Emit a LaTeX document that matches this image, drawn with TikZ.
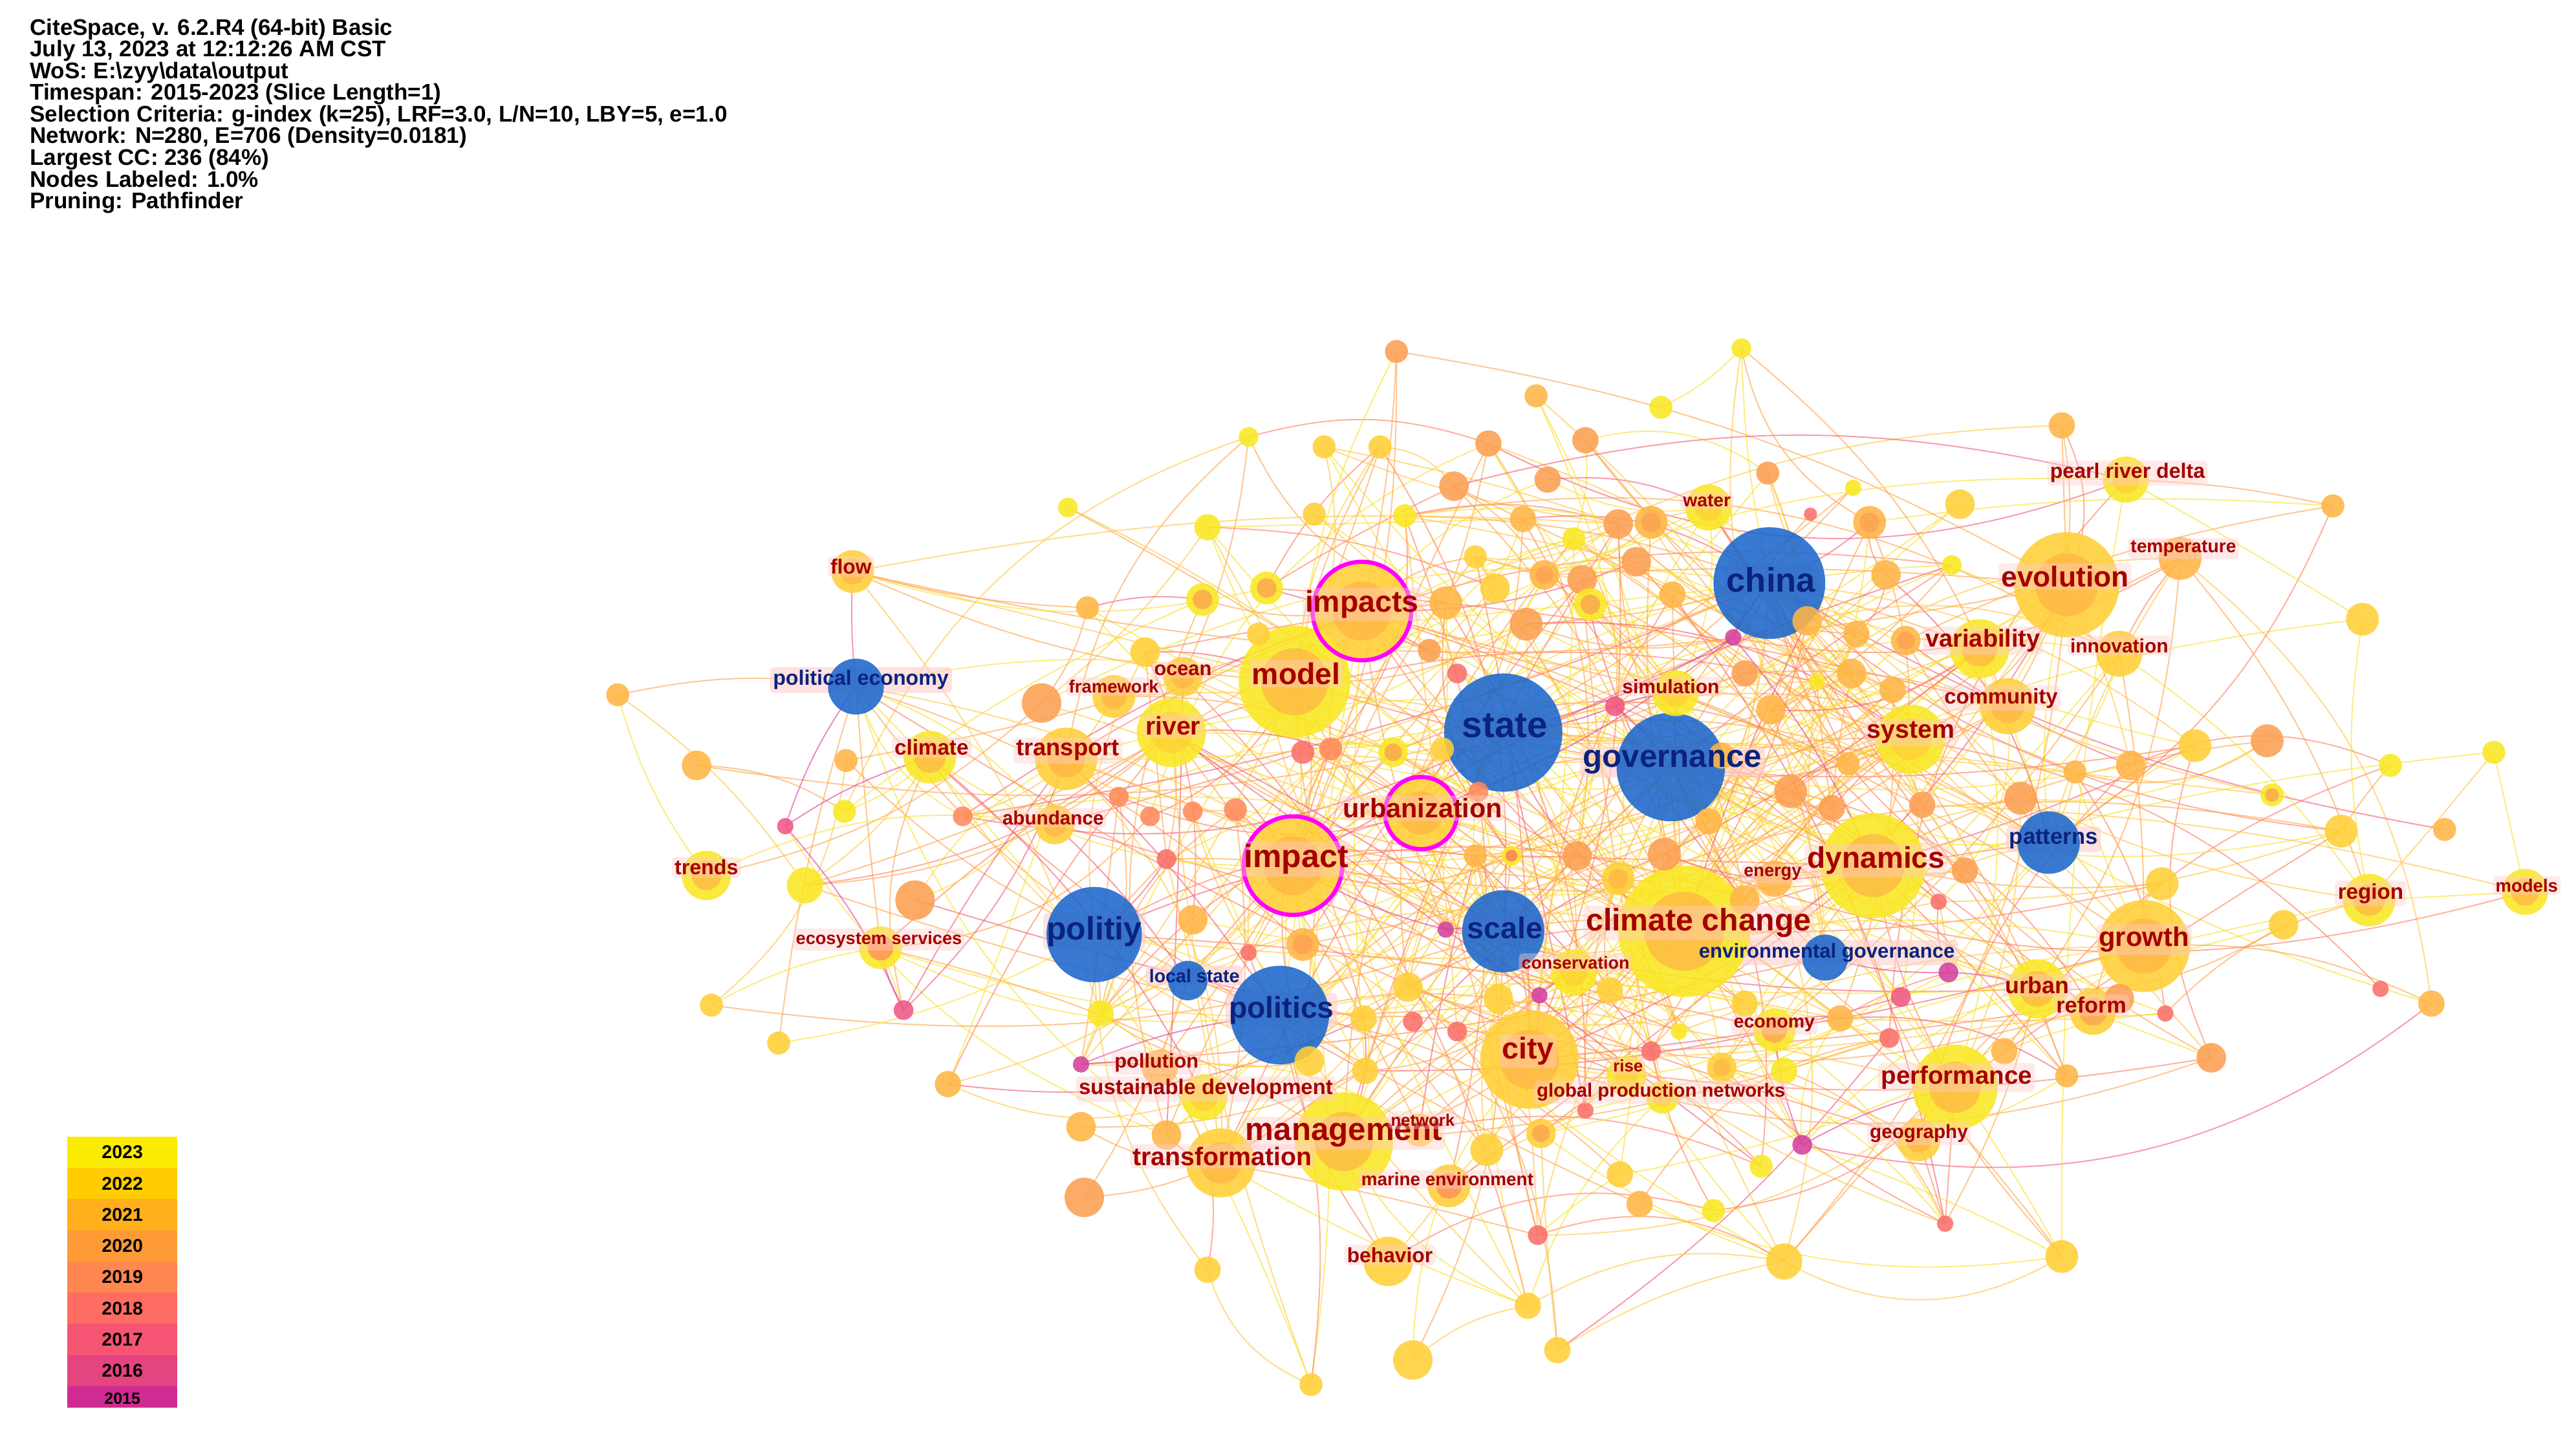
\documentclass[tikz,border=0pt]{standalone}
\usepackage{fontspec}
\setmainfont{Liberation Sans}
\pgfdeclarelayer{bg}
\pgfdeclarelayer{edges}
\pgfdeclarelayer{labbg}
\pgfsetlayers{bg,edges,labbg,main}
\definecolor{cA}{RGB}{250,232,35}
\definecolor{cB}{RGB}{255,208,55}
\definecolor{cC}{RGB}{255,182,70}
\definecolor{cD}{RGB}{252,160,82}
\definecolor{cE}{RGB}{255,138,92}
\definecolor{cF}{RGB}{250,112,108}
\definecolor{cG}{RGB}{240,88,135}
\definecolor{cI}{RGB}{212,65,160}
\definecolor{cbl}{RGB}{28,103,205}
\definecolor{eY}{RGB}{250,226,50}
\definecolor{eG}{RGB}{255,200,70}
\definecolor{eO}{RGB}{255,165,80}
\definecolor{eS}{RGB}{255,130,100}
\definecolor{eR}{RGB}{245,95,120}
\definecolor{eM}{RGB}{225,70,160}
\definecolor{labred}{RGB}{165,0,0}
\definecolor{labblue}{RGB}{10,35,125}
\definecolor{labbg}{RGB}{255,205,205}
\definecolor{ringm}{RGB}{255,0,255}
\definecolor{lg23}{RGB}{250,235,0}
\definecolor{lg22}{RGB}{255,205,0}
\definecolor{lg21}{RGB}{255,176,28}
\definecolor{lg20}{RGB}{255,155,55}
\definecolor{lg19}{RGB}{255,135,80}
\definecolor{lg18}{RGB}{255,108,98}
\definecolor{lg17}{RGB}{245,85,115}
\definecolor{lg16}{RGB}{228,68,128}
\definecolor{lg15}{RGB}{208,42,147}
\newcommand\lfs[1]{\fontsize{#1}{#1}\selectfont}
\tikzset{
  kw/.style={circle, inner sep=0pt, draw=none},
  edge/.style={line width=0.55pt, draw opacity=0.62},
  lab/.style={font=\bfseries, text=labred, fill=labbg, fill opacity=0.42, text opacity=1, rounded corners=2pt, inner sep=1.2pt},
  blab/.style={font=\bfseries, text=labblue, inner sep=1.2pt},
  legtxt/.style={font=\bfseries\lfs{8}, text=black, inner sep=0pt},
}
\begin{document}
\begin{tikzpicture}[x=0.025cm,y=-0.025cm]
\useasboundingbox (0,0) rectangle (1568,870);
\begin{pgfonlayer}{bg}
\fill[white] (0,0) rectangle (1568,870);
\end{pgfonlayer}

% ---------------- nodes ----------------
\foreach \nm/\x/\y/\r/\ca/\cb [count=\i] in {
china/1077/355/34/cbl/none, state/915/446/36/cbl/none, governance/1017/467/33/cbl/none,
politiy/666/569/29/cbl/none, politics/779/618/30/cbl/none, scale/915/567/25/cbl/none,
polecon/521/418/17/cbl/none, patterns/1247/513/19/cbl/none, localstate/723/597/12/cbl/none,
envgov/1111/583/14/cbl/none,
impacts/829/372/30/cB/cC, impact/787/527/30/cB/cC, urbanization/865/495/22/cB/cC,
model/788/415/34/cA/cC, climatechange/1025/567/40/cA/cC, dynamics/1140/527/32/cA/cC,
evolution/1258/356/32/cB/cC, city/931/645/30/cB/cC, management/818/695/30/cA/cC,
growth/1305/576/28/cB/cC, performance/1190/662/26/cA/cC, river/713/446/21/cA/cB,
transport/649/462/19/cB/cC, transformation/743/708/21/cB/cC, system/1163/450/21/cA/cB,
variability/1205/395/18/cA/cC, community/1222/430/17/cB/cC, urban/1240/602/18/cA/cC,
reform/1274/616/14/cB/cD, climate/566/461/16/cA/cC, trends/430/533/15/cA/cC,
flow/519/348/13/cB/cC, behavior/845/768/15/cB/none, region/1442/548/16/cA/cC,
models/1537/543/14/cA/cC, pearl/1294/292/14/cA/cB, temperature/1327/340/13/cC/none,
innovation/1290/398/14/cB/none, water/1040/309/14/cA/cB, simulation/1020/422/14/cA/cB,
energy/1080/535/11/cC/none, conservation/958/592/14/cA/cB, economy/1080/627/13/cA/cD,
rise/990/655/12/cA/cB, gpn/1012/668/10/cA/cB, pollution/706/650/11/cC/none,
susdev/733/668/14/cA/cB, network/864/688/10/cB/cC, marine/882/722/13/cB/cE,
ecoserv/536/577/13/cA/cE, abundance/642/502/12/cB/cC, framework/678/424/13/cB/cC,
ocean/720/412/12/cB/cC, geography/1168/694/13/cB/cC,
u1/850/214/7/cD/none, u2/1060/212/6/cA/none, u3/935/241/7/cC/none, u4/1011/248/7/cA/none,
u5/760/266/6/cA/none, u6/806/272/7/cB/none, u7/840/272/7/cB/none, u8/906/270/8/cD/none,
u9/965/268/8/cD/none, u10/1255/259/8/cC/none, u11/1128/297/5/cA/none, u12/1076/288/7/cD/none,
u13/885/296/9/cD/none, u14/942/292/8/cD/none, u15/650/309/6/cA/none, u16/735/321/8/cA/none,
u17/800/313/7/cB/none, u18/855/314/7/cA/none, u19/898/339/7/cB/none, u20/927/316/8/cC/none,
u21/958/328/7/cA/none, u22/985/319/9/cD/none, u23/1005/318/10/cC/cD, u24/1102/313/4/cF/none,
u25/1138/318/10/cC/cD, u26/1193/307/9/cB/none, u27/1188/344/6/cA/none, u28/1148/350/9/cC/none,
u29/1420/308/7/cC/none, u30/1438/377/10/cB/none, u31/662/370/7/cC/none, u32/732/365/10/cA/cD,
u33/771/358/10/cA/cD, u34/880/367/10/cC/none, u35/910/358/9/cB/none, u36/940/350/9/cC/cD,
u37/963/353/9/cD/none, u38/996/342/9/cD/none, u39/1018/362/8/cC/none, u40/1055/388/5/cI/none,
u41/968/368/10/cA/cD, u42/929/380/10/cD/none, u43/1100/378/9/cC/none, u44/1130/386/8/cC/none,
u45/1160/390/9/cC/cD, u46/697/397/9/cB/none, u47/766/386/7/cB/none, u48/870/396/7/cD/none,
u49/1062/410/8/cD/none, u50/1106/415/5/cA/none, u51/1127/410/9/cC/none, u52/376/423/7/cC/none,
u53/1152/420/8/cC/none, u54/424/466/9/cC/none, u55/515/463/7/cC/none, u56/478/503/5/cG/none,
u57/514/494/7/cA/none, u58/490/539/11/cA/none, u59/557/548/12/cD/none, u60/586/497/6/cE/none,
u61/634/428/12/cD/none, u62/681/485/6/cE/none, u63/700/497/6/cE/none, u64/726/494/6/cE/none,
u65/752/493/7/cE/none, u66/793/458/7/cF/none, u67/810/456/7/cE/none, u68/848/458/9/cA/cD,
u69/878/456/7/cB/none, u70/900/482/6/cE/none, u71/887/410/6/cF/none, u72/983/430/6/cG/none,
u73/1048/460/8/cC/none, u74/1078/432/9/cC/none, u75/1090/482/10/cD/none, u76/1115/492/8/cD/none,
u77/1125/465/7/cC/none, u78/1170/490/8/cD/none, u79/1196/530/8/cD/none, u80/1180/549/5/cF/none,
u81/1230/486/10/cD/none, u82/1263/470/7/cC/none, u83/1297/466/9/cC/none, u84/1336/454/10/cB/none,
u85/1380/451/10/cD/none, u86/1383/484/7/cA/cD, u87/1425/506/10/cB/none, u88/1455/466/7/cA/none,
u89/1488/505/7/cC/none, u90/1518/458/7/cA/none, u91/1316/538/10/cB/none, u92/1390/563/9/cB/none,
u93/920/521/6/cA/cF, u94/898/521/7/cC/none, u95/960/521/9/cD/none, u96/985/535/10/cB/cC,
u97/1013/520/10/cD/none, u98/1062/548/9/cC/none, u99/1040/500/8/cC/none, u100/710/523/6/cF/none,
u101/726/560/9/cC/none, u102/760/580/5/cF/none, u103/793/575/10/cC/cD, u104/550/615/6/cG/none,
u105/433/612/7/cB/none, u106/474/635/7/cB/none, u107/577/660/8/cC/none, u108/658/648/5/cI/none,
u109/658/686/9/cC/none, u110/660/729/12/cD/none, u111/710/691/9/cC/none, u112/670/617/8/cA/none,
u113/830/620/8/cB/none, u114/857/601/9/cB/none, u115/880/566/5/cI/none, u116/937/606/5/cI/none,
u117/912/608/9/cB/none, u118/860/622/6/cF/none, u119/887/628/6/cF/none, u120/797/646/9/cB/none,
u121/831/652/8/cB/none, u122/980/603/8/cB/none, u123/1005/640/6/cF/none, u124/1022/628/5/cA/none,
u125/1048/650/9/cB/cC, u126/1062/611/8/cB/none, u127/1086/652/8/cA/none, u128/1120/620/8/cC/none,
u129/1150/632/6/cF/none, u130/1157/607/6/cG/none, u131/1186/592/6/cI/none, u132/1220/640/8/cC/none,
u133/1258/655/7/cC/none, u134/1290/608/9/cD/none, u135/1318/617/5/cF/none, u136/1346/644/9/cD/none,
u137/1449/602/5/cF/none, u138/1480/611/8/cC/none, u139/1097/697/6/cI/none, u140/1072/710/7/cA/none,
u141/1043/737/7/cA/none, u142/1184/745/5/cF/none, u143/1086/768/11/cB/none, u144/1255/765/10/cB/none,
u145/998/733/8/cC/none, u146/986/715/8/cB/none, u147/936/752/6/cF/none, u148/965/676/5/cF/none,
u149/905/700/10/cB/none, u150/938/690/9/cB/cD, u151/735/773/8/cB/none, u152/930/795/8/cB/none,
u153/948/822/8/cB/none, u154/860/828/12/cB/none, u155/798/843/7/cB/none}{
  \node[kw, minimum size={\r*0.05cm}, fill=\ca, fill opacity=0.88] (\nm) at (\x,\y) {};
  \path[fill=\cb, fill opacity=0.75] (\nm.center) circle[radius={\r*0.6*0.025cm}];
  \expandafter\xdef\csname M\i\endcsname{\nm}
  \expandafter\xdef\csname X\i\endcsname{\x}
  \expandafter\xdef\csname Y\i\endcsname{\y}
  \expandafter\xdef\csname PX@\nm\endcsname{\x}
  \expandafter\xdef\csname PY@\nm\endcsname{\y}
  \xdef\NN{\i}
}

% magenta rings (high centrality)
\foreach \nm/\r in {impacts/30, impact/30, urbanization/22}{
  \draw[ringm, line width=1.8pt] (\nm.center) circle[radius={\r*0.025cm}];
}

% ---------------- edges ----------------
\pgfmathdeclarerandomlist{ecol}{{eY}{eY}{eY}{eY}{eG}{eG}{eG}{eO}{eO}{eO}{eO}{eS}{eS}{eR}}
\pgfmathsetseed{20230713}
\begin{pgfonlayer}{edges}
\foreach \k in {1,...,1700}{
  \pgfmathrandominteger{\a}{1}{\NN}
  \pgfmathrandominteger{\b}{1}{\NN}
  \pgfmathsetmacro\dd{veclen(\csname X\a\endcsname-\csname X\b\endcsname,\csname Y\a\endcsname-\csname Y\b\endcsname)}
  \pgfmathsetmacro\thr{50+560*rnd*rnd}
  \ifdim\dd pt<\thr pt
    \ifnum\a=\b\else
      \pgfmathrandomitem{\ec}{ecol}
      \pgfmathsetmacro\bd{int(random(0,50)-25)}
      \edef\na{\csname M\a\endcsname}\edef\nb{\csname M\b\endcsname}
      \draw[edge, \ec] (\na.center) to[bend left=\bd] (\nb.center);
    \fi
  \fi
}
\foreach \h/\m in {china/30, state/30, governance/30, climatechange/30, impact/24, impacts/24,
  model/24, urbanization/20, dynamics/22, politics/18, politiy/18, scale/16, city/20,
  management/16, evolution/14, growth/14, performance/14, system/12, variability/10,
  community/10, river/10, transport/10, region/10, models/8, patterns/8, polecon/8, flow/10,
  climate/8, trends/6, transformation/10, urban/10, pearl/8, innovation/8, temperature/6}{
  \foreach \k in {1,...,\m}{
    \pgfmathrandominteger{\b}{1}{\NN}
    \pgfmathsetmacro\dd{veclen(\csname PX@\h\endcsname-\csname X\b\endcsname,\csname PY@\h\endcsname-\csname Y\b\endcsname)}
    \pgfmathsetmacro\thr{120+600*rnd}
    \ifdim\dd pt<\thr pt
      \pgfmathrandomitem{\ec}{ecol}
      \pgfmathsetmacro\bd{int(random(0,40)-20)}
      \edef\nb{\csname M\b\endcsname}
      \draw[edge, \ec] (\h.center) to[bend left=\bd] (\nb.center);
    \fi
  }
}
% edges of the oldest (magenta / pink) nodes
\foreach \p/\q in {u40/china, u40/state, u40/dynamics, u40/urbanization, u56/polecon, u56/u104,
  u56/climate, u104/ecoserv, u108/pollution, u108/politics, u115/scale, u115/impact, u116/city,
  u116/conservation, u131/urban, u131/envgov, u139/performance, u139/economy, u72/state,
  u72/governance, u72/simulation}{
  \draw[edge, eM] (\p.center) to[bend left=8] (\q.center);
}
\foreach \p/\q/\c/\bd in {behavior/management/eG/5, behavior/marine/eG/-5, u151/u155/eG/-25,
  u154/u152/eG/15, u152/u143/eG/20, u153/u143/eG/10, u143/u144/eG/-30, u142/geography/eS/0,
  u142/performance/eS/0, u110/transformation/eO/-10, u52/polecon/eO/10, u52/trends/eY/-10,
  u2/u4/eY/10, u2/china/eY/-5, u1/impacts/eO/5, u10/evolution/eO/0, pearl/u29/eO/5,
  u30/region/eY/-10, models/region/eY/0, models/u90/eY/0, u105/ecoserv/eY/10, u106/politiy/eY/-10,
  flow/evolution/eO/-12, flow/u33/eY/-15, flow/model/eO/-10, u52/u58/eG/10}{
  \draw[edge, \c] (\p.center) to[bend left=\bd] (\q.center);
}
\end{pgfonlayer}

% ---------------- labels ----------------
\foreach \nm/\x/\y/\s/\st/\t in {
china/1078/353/14.7/blab/china, state/916/442/15.8/blab/state,
governance/1018/464/13.8/blab/governance, politiy/666/567/14/blab/politiy,
politics/780/615/13/blab/politics, scale/916/565/13/blab/scale,
polecon/524/414/9/blab/political economy, patterns/1250/511/9.7/blab/patterns,
localstate/727/594/8/blab/local state, envgov/1112/580/8.7/blab/environmental governance,
impacts/829/368/13/lab/impacts, impact/789/523/14/lab/impact,
urbanization/866/492/11.6/lab/urbanization, model/789/410/13/lab/model,
climatechange/1034/562/13.5/lab/climate change, dynamics/1142/524/12.9/lab/dynamics,
evolution/1257/351/12.4/lab/evolution, city/930/640/13/lab/city,
management/818/690/13.8/lab/management, growth/1305/572/11.7/lab/growth,
performance/1191/656/10.8/lab/performance, river/714/442/11/lab/river,
transport/650/457/10.2/lab/transport, transformation/744/704/11/lab/transformation,
system/1163/446/11/lab/system, variability/1207/390/10.6/lab/variability,
community/1218/425/9.2/lab/community, urban/1240/600/10/lab/urban,
reform/1273/612/9.6/lab/reform, climate/567/455/9.3/lab/climate,
trends/430/528/9/lab/trends, flow/518/345/8.9/lab/flow,
behavior/846/764/8.9/lab/behavior, region/1443/544/9.3/lab/region,
models/1538/539/7.7/lab/models, pearl/1295/288/9/lab/pearl river delta,
temperature/1329/334/7.9/lab/temperature, innovation/1290/393/8.4/lab/innovation,
water/1039/305/7.9/lab/water, simulation/1017/418/8.4/lab/simulation,
energy/1079/532/7.6/lab/energy, conservation/959/586/7.5/lab/conservation,
economy/1080/624/8/lab/economy, rise/991/649/7.2/lab/rise,
gpn/1011/665/8.2/lab/global production networks, pollution/704/647/8.6/lab/pollution,
susdev/734/663/9.2/lab/sustainable development, network/866/682/7.2/lab/network,
marine/881/718/7.8/lab/marine environment, ecoserv/535/572/7.6/lab/ecosystem services,
abundance/641/498/8.3/lab/abundance, framework/678/418/7.7/lab/framework,
ocean/720/408/8.6/lab/ocean, geography/1168/690/8.3/lab/geography}{
  \node[\st, font=\bfseries\lfs{\s}] (L-\nm) at (\x,\y) {\t};
}
% backgrounds of the blue labels lie under the nodes
\begin{pgfonlayer}{labbg}
\foreach \nm in {china, state, governance, politiy, politics, scale, polecon, patterns, localstate, envgov}{
  \fill[labbg, fill opacity=0.6, rounded corners=2pt] (L-\nm.south west) rectangle (L-\nm.north east);
}
\end{pgfonlayer}

% ---------------- header ----------------
\node[anchor=north west, inner sep=0pt, align=left, font=\bfseries\fontsize{9.8}{9.4}\selectfont] (hdr) at (18,11)
{CiteSpace, v. 6.2.R4 (64-bit) Basic\\
July 13, 2023 at 12:12:26 AM CST\\
WoS: E:\textbackslash zyy\textbackslash data\textbackslash output\\
Timespan: 2015-2023 (Slice Length=1)\\
Selection Criteria: g-index (k=25), LRF=3.0, L/N=10, LBY=5, e=1.0\\
Network: N=280, E=706 (Density=0.0181)\\
Largest CC: 236 (84\%)\\
Nodes Labeled: 1.0\%\\
Pruning: Pathfinder};

% ---------------- legend ----------------
\foreach \yr/\c/\j in {2023/lg23/0, 2022/lg22/1, 2021/lg21/2, 2020/lg20/3, 2019/lg19/4,
  2018/lg18/5, 2017/lg17/6, 2016/lg16/7}{
  \fill[\c] (41,{692+\j*19}) rectangle (108,{711+\j*19});
  \node[legtxt] (lg\yr) at (74.5,{701.5+\j*19}) {\yr};
}
\fill[lg15] (41,844) rectangle (108,857);
\node[legtxt, font=\bfseries\lfs{7}] (lg2015) at (74.5,851.5) {2015};
\end{tikzpicture}
\end{document}
